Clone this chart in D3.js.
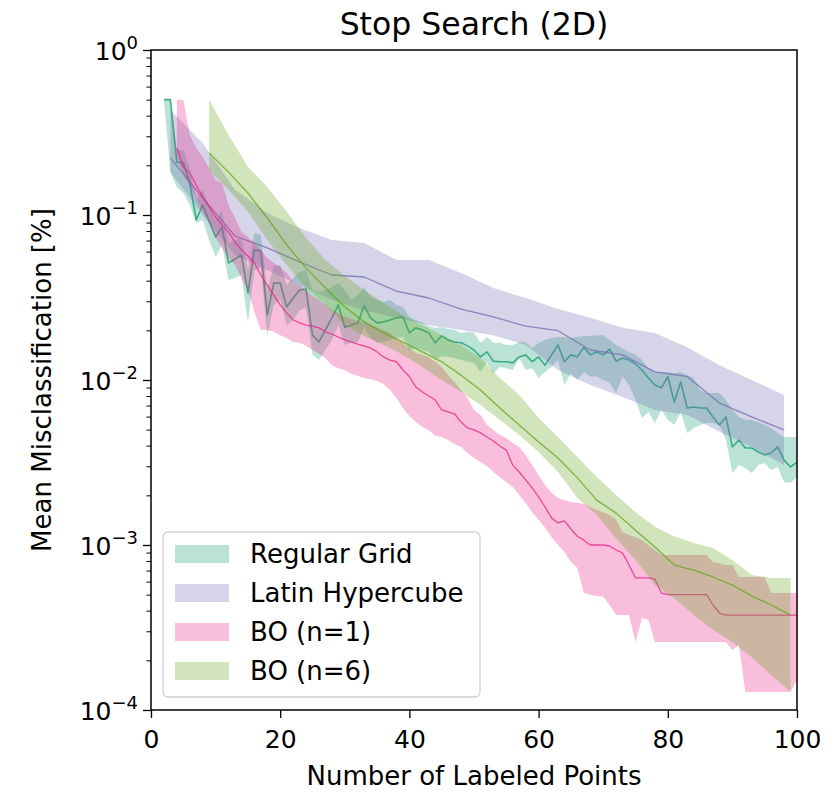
<!DOCTYPE html>
<html>
<head>
<meta charset="utf-8">
<script src="https://cdn.jsdelivr.net/npm/d3@7"></script>
<style>
  body { margin: 0; background: #fff; }
  svg { display: block; font-family: "DejaVu Sans", sans-serif; }
</style>
</head>
<body>
<svg id="chart" width="838" height="792"></svg>
<script>
// ---- Regular Grid: one value per labeled point, n = 2 .. 100 ----
const gridStart = 2;
const gridMean = [
  0.5, 0.5, 0.209, 0.207, 0.156, 0.0933, 0.115, 0.092, 0.0736, 0.0845,
  0.0512, 0.0541, 0.0572, 0.0337, 0.0614, 0.0605, 0.0248, 0.0387, 0.0387, 0.0277,
  0.0314, 0.0351, 0.0356, 0.0187, 0.0170, 0.0201, 0.0238, 0.0285, 0.0209, 0.0215,
  0.0222, 0.0281, 0.0238, 0.0222, 0.0225, 0.0231, 0.0238, 0.0241, 0.0193, 0.0207,
  0.0201, 0.0193, 0.0168, 0.0185, 0.0175, 0.0170, 0.0168, 0.0161, 0.0152, 0.0138,
  0.0148, 0.0130, 0.0129, 0.0129, 0.0127, 0.0138, 0.0142, 0.0129, 0.0138, 0.0123,
  0.0142, 0.0163, 0.0129, 0.0142, 0.0138, 0.0158, 0.0142, 0.0148, 0.0142, 0.0154,
  0.0130, 0.0136, 0.0132, 0.0125, 0.0115, 0.0103, 0.00933, 0.00894, 0.0105, 0.00736,
  0.00972, 0.00677, 0.00686, 0.00677, 0.00677, 0.00597, 0.00534, 0.00597, 0.00393, 0.00433,
  0.00387, 0.00387, 0.00366, 0.00351, 0.00361, 0.00393, 0.00327, 0.00297, 0.00318
];
const gridUpper = [
  0.5, 0.5, 0.248, 0.248, 0.193, 0.123, 0.142, 0.115, 0.0933, 0.107,
  0.0677, 0.0705, 0.0725, 0.0464, 0.0778, 0.0756, 0.0351, 0.0491, 0.0498, 0.0376,
  0.0415, 0.0451, 0.0464, 0.0351, 0.0341, 0.0351, 0.0366, 0.0387, 0.0351, 0.0305,
  0.0327, 0.0366, 0.0318, 0.0305, 0.0297, 0.0305, 0.0285, 0.0277, 0.0241, 0.0231,
  0.0225, 0.0212, 0.0207, 0.0209, 0.0204, 0.0201, 0.0193, 0.0196, 0.0193, 0.0168,
  0.0182, 0.0168, 0.0168, 0.0163, 0.0163, 0.0170, 0.0170, 0.0156, 0.0168, 0.0175,
  0.0180, 0.0182, 0.0182, 0.0180, 0.0182, 0.0185, 0.0185, 0.0187, 0.0187, 0.0175,
  0.0163, 0.0156, 0.0148, 0.0142, 0.0132, 0.0118, 0.0112, 0.0112, 0.0112, 0.0110,
  0.0112, 0.0107, 0.0103, 0.0087, 0.00834, 0.00834, 0.00834, 0.00756, 0.00658, 0.00597,
  0.00572, 0.00572, 0.00556, 0.00534, 0.00512, 0.00478, 0.00451, 0.00451, 0.00451
];
const gridLower = [
  0.5, 0.182, 0.148, 0.136, 0.115, 0.0894, 0.0933, 0.0705, 0.0556, 0.0658,
  0.0404, 0.0415, 0.0433, 0.0222, 0.0464, 0.0478, 0.0187, 0.0285, 0.0305, 0.0215,
  0.0231, 0.0265, 0.0273, 0.0142, 0.0132, 0.0152, 0.0175, 0.0215, 0.0163, 0.0168,
  0.0170, 0.0207, 0.0180, 0.0168, 0.0170, 0.0175, 0.0180, 0.0182, 0.0152, 0.0156,
  0.0152, 0.0148, 0.0132, 0.0140, 0.0138, 0.0136, 0.0132, 0.0129, 0.0127, 0.0112,
  0.0127, 0.0110, 0.0120, 0.0118, 0.0115, 0.0136, 0.0115, 0.0118, 0.0103, 0.0112,
  0.0120, 0.0132, 0.00933, 0.0110, 0.0100, 0.0112, 0.0105, 0.0105, 0.0100, 0.00959,
  0.00834, 0.0105, 0.00933, 0.00756, 0.00588, 0.0064, 0.00549, 0.00658, 0.00572, 0.00534,
  0.0064, 0.00478, 0.00512, 0.00534, 0.00549, 0.00549, 0.00534, 0.00433, 0.00273, 0.00305,
  0.00293, 0.00273, 0.00305, 0.00314, 0.00285, 0.00297, 0.00241, 0.00238, 0.00258
];

// ---- Latin Hypercube: evaluated every 5 points ----
const lhPoints = [3, 8, 13, 18, 23, 28, 33, 38, 43, 48, 53, 58, 63, 68, 73, 78, 83, 88, 93, 98];
const lhMean  = [0.222, 0.127, 0.0746, 0.0632, 0.0519, 0.0433, 0.0421, 0.0346, 0.0314, 0.0269,
                 0.0241, 0.0212, 0.0199, 0.0152, 0.0142, 0.0112, 0.0105, 0.00725, 0.00597, 0.00498];
const lhUpper = [0.433, 0.273, 0.142, 0.103, 0.0834, 0.0705, 0.0677, 0.0534, 0.0534, 0.0445,
                 0.0361, 0.0314, 0.0269, 0.0238, 0.0207, 0.0193, 0.0158, 0.0123, 0.0100, 0.00811];
const lhLower = [0.182, 0.100, 0.0572, 0.0464, 0.0376, 0.0305, 0.0265, 0.0238, 0.0215, 0.0201,
                 0.0187, 0.0163, 0.0115, 0.00933, 0.00788, 0.00658, 0.00614, 0.00485, 0.00393, 0.00305];

// ---- BO (n=1): one value per labeled point, n = 4 .. 100 ----
const bo1Start = 4;
const bo1Mean = [
  0.255, 0.196, 0.180, 0.152, 0.129, 0.112, 0.0972, 0.0870, 0.0788, 0.0686,
  0.0614, 0.0564, 0.0512, 0.0433, 0.0376, 0.0327, 0.0285, 0.0255, 0.0231, 0.0222,
  0.0215, 0.0212, 0.0207, 0.0196, 0.0190, 0.0182, 0.0175, 0.0170, 0.0165, 0.0161,
  0.0156, 0.0148, 0.0138, 0.0132, 0.0129, 0.0115, 0.0105, 0.00907, 0.00845, 0.0080,
  0.00756, 0.00658, 0.0064, 0.00622, 0.00556, 0.00512, 0.00498, 0.00478, 0.00451, 0.00427,
  0.00398, 0.00376, 0.00305, 0.00277, 0.00248, 0.00222, 0.00196, 0.0017, 0.00146, 0.00136,
  0.0014, 0.00125, 0.00113, 0.00107, 0.001, 0.001, 0.001, 0.000986, 0.000933, 0.000894,
  0.000756, 0.000632, 0.000632, 0.000632, 0.000622, 0.000512, 0.0005, 0.0005, 0.0005, 0.0005,
  0.0005, 0.0005, 0.0005, 0.000433, 0.000387, 0.000376, 0.000376, 0.000376, 0.000376, 0.000376,
  0.000376, 0.000376, 0.000376, 0.000376, 0.000376, 0.000376, 0.000376
];
const bo1Upper = [
  0.5, 0.5, 0.305, 0.255, 0.225, 0.193, 0.163, 0.156, 0.115, 0.0959,
  0.0788, 0.0736, 0.0677, 0.0614, 0.0549, 0.0512, 0.0485, 0.0445, 0.0393, 0.0376,
  0.0351, 0.0323, 0.0305, 0.0285, 0.0265, 0.0255, 0.0241, 0.0234, 0.0228, 0.0222,
  0.0215, 0.0209, 0.0201, 0.0193, 0.0180, 0.0168, 0.0156, 0.0146, 0.0142, 0.0138,
  0.0129, 0.0120, 0.0107, 0.00972, 0.0087, 0.00778, 0.00658, 0.00614, 0.00534, 0.00498,
  0.00464, 0.00445, 0.00415, 0.00393, 0.00351, 0.00305, 0.00265, 0.00231, 0.00207, 0.00193,
  0.00187, 0.00182, 0.0018, 0.00178, 0.0017, 0.00163, 0.00158, 0.00152, 0.00142, 0.0012,
  0.00115, 0.00112, 0.00107, 0.001, 0.000933, 0.00087, 0.00087, 0.00087, 0.00087, 0.00087,
  0.00087, 0.00087, 0.00087, 0.000788, 0.000776, 0.000756, 0.000756, 0.00064, 0.00064, 0.00064,
  0.00064, 0.00064, 0.000512, 0.000512, 0.000512, 0.000512, 0.000512
];
const bo1Lower = [
  0.23, 0.175, 0.152, 0.123, 0.105, 0.0894, 0.0725, 0.0632, 0.0549, 0.0498,
  0.0415, 0.0351, 0.0258, 0.0201, 0.0201, 0.0196, 0.0187, 0.0180, 0.0170, 0.0168,
  0.0161, 0.0152, 0.0144, 0.0136, 0.0123, 0.0118, 0.0115, 0.0109, 0.0106, 0.0103,
  0.0101, 0.00986, 0.00946, 0.0087, 0.00778, 0.00677, 0.00605, 0.00556, 0.00519, 0.00498,
  0.00458, 0.00451, 0.00433, 0.0041, 0.00393, 0.00361, 0.00337, 0.00318, 0.00301, 0.00277,
  0.00258, 0.00241, 0.00225, 0.00201, 0.0018, 0.00158, 0.00142, 0.00127, 0.00112, 0.001,
  0.000907, 0.000788, 0.000725, 0.000512, 0.0005, 0.00049, 0.000485, 0.000433, 0.000376, 0.000376,
  0.000376, 0.000258, 0.000361, 0.000351, 0.000258, 0.000258, 0.000258, 0.000258, 0.000258, 0.000258,
  0.000258, 0.000258, 0.000258, 0.000258, 0.000258, 0.000258, 0.000231, 0.000248, 0.000129, 0.000129,
  0.000129, 0.000129, 0.000129, 0.000129, 0.000129, 0.000129, 0.000152
];

// ---- BO (n=6): evaluated every 3 points ----
const bo6Points = [9, 12, 15, 18, 21, 24, 27, 30, 33, 36, 39, 42, 45, 48, 51, 54,
                   57, 60, 63, 66, 69, 72, 75, 78, 81, 84, 87, 90, 93, 96, 99];
const bo6Mean  = [0.238, 0.182, 0.136, 0.0959, 0.0658, 0.0478, 0.0361, 0.0277, 0.0225, 0.0193,
                  0.0170, 0.0148, 0.0129, 0.0107, 0.0087, 0.00677, 0.00534, 0.00421, 0.00337, 0.00255,
                  0.00187, 0.00156, 0.00123, 0.000972, 0.000756, 0.000705, 0.00064, 0.000572, 0.00049, 0.000433,
                  0.000376];
const bo6Upper = [0.5, 0.305, 0.196, 0.148, 0.105, 0.0725, 0.0534, 0.0427, 0.0351, 0.0293,
                  0.0248, 0.0215, 0.0187, 0.0163, 0.0136, 0.0103, 0.00811, 0.00588, 0.00451, 0.00341,
                  0.00258, 0.00201, 0.00158, 0.00129, 0.00113, 0.00103, 0.000959, 0.000811, 0.000658, 0.000632,
                  0.000632];
const bo6Lower = [0.187, 0.142, 0.105, 0.0705, 0.0498, 0.0361, 0.0285, 0.0215, 0.0185, 0.0163,
                  0.0142, 0.0120, 0.0100, 0.00845, 0.00705, 0.00572, 0.00464, 0.00366, 0.00277, 0.00193,
                  0.00152, 0.0011, 0.000811, 0.000572, 0.000478, 0.000376, 0.000305, 0.000258, 0.000209, 0.000163,
                  0.000129];

// ---- Axis ticks and labels ----
const xTicks = [0, 20, 40, 60, 80, 100];
const yMajorTicks = [1e-4, 1e-3, 1e-2, 1e-1, 1];
const legendLabels = ["Regular Grid", "Latin Hypercube", "BO (n=1)", "BO (n=6)"];
const colors = ["#1b9e77", "#7570b3", "#e7298a", "#66a61e"];

// ---- Layout ----
const plot = { left: 151, right: 797, top: 50, bottom: 710 };
const svg = d3.select("#chart");

const x = d3.scaleLinear().domain([0, 100]).range([plot.left, plot.right]);
const y = d3.scaleLog().domain([1e-4, 1]).range([plot.bottom, plot.top]);

function rows(points, mean, lo, hi) {
  return points.map((n, i) => ({ n, mean: mean[i], lo: lo[i], hi: hi[i] }));
}
const consecutive = (start, len) => Array.from({ length: len }, (_, i) => start + i);

const series = [
  rows(consecutive(gridStart, gridMean.length), gridMean, gridLower, gridUpper),
  rows(lhPoints, lhMean, lhLower, lhUpper),
  rows(consecutive(bo1Start, bo1Mean.length), bo1Mean, bo1Lower, bo1Upper),
  rows(bo6Points, bo6Mean, bo6Lower, bo6Upper)
];
const lineWidths = [1.6, 1.3, 1.3, 1.3];

svg.append("defs").append("clipPath").attr("id", "plotClip")
  .append("rect")
  .attr("x", plot.left).attr("y", plot.top)
  .attr("width", plot.right - plot.left).attr("height", plot.bottom - plot.top);

const area = d3.area().x(d => x(d.n)).y0(d => y(d.lo)).y1(d => y(d.hi));
const line = d3.line().x(d => x(d.n)).y(d => y(d.mean));

// each method: shaded min/max band, then its mean curve
const marks = svg.append("g").attr("clip-path", "url(#plotClip)");
series.forEach((data, i) => {
  marks.append("path").datum(data)
    .attr("d", area)
    .attr("fill", colors[i]).attr("fill-opacity", 0.3).attr("stroke", "none");
  marks.append("path").datum(data)
    .attr("d", line)
    .attr("fill", "none").attr("stroke", colors[i])
    .attr("stroke-width", lineWidths[i]).attr("stroke-opacity", 0.8)
    .attr("stroke-linejoin", "round");
});

// ---- Axes ----
const xAxis = svg.append("g")
  .attr("transform", `translate(0,${plot.bottom})`)
  .call(d3.axisBottom(x).tickValues(xTicks).tickSize(8).tickPadding(12).tickFormat(d3.format("d")));
xAxis.select(".domain").remove();
xAxis.selectAll(".tick line").attr("stroke", "#000").attr("stroke-width", 1.3);
xAxis.selectAll(".tick text")
  .attr("font-family", "DejaVu Sans").attr("font-size", 25).attr("fill", "#000");

const yMinorTicks = [];
yMajorTicks.slice(0, -1).forEach(b => { for (let k = 2; k <= 9; k++) yMinorTicks.push(b * k); });

const yMinor = svg.append("g")
  .attr("transform", `translate(${plot.left},0)`)
  .call(d3.axisLeft(y).tickValues(yMinorTicks).tickSize(4.5).tickFormat(""));
yMinor.select(".domain").remove();
yMinor.selectAll(".tick line").attr("stroke", "#000").attr("stroke-width", 1);

const yMajor = svg.append("g")
  .attr("transform", `translate(${plot.left},0)`)
  .call(d3.axisLeft(y).tickValues(yMajorTicks).tickSize(8).tickFormat(""));
yMajor.select(".domain").remove();
yMajor.selectAll(".tick line").attr("stroke", "#000").attr("stroke-width", 1.3);

// y tick labels as 10 with a superscript exponent
const yLabels = svg.append("g");
yMajorTicks.forEach(v => {
  const exp = Math.round(Math.log10(v));
  const t = yLabels.append("text")
    .attr("x", plot.left - 13).attr("y", y(v) + 10)
    .attr("text-anchor", "end")
    .attr("font-family", "DejaVu Sans").attr("font-size", 25).attr("fill", "#000");
  t.append("tspan").text("10");
  t.append("tspan").attr("dy", -11).attr("font-size", 18)
    .text(exp < 0 ? "\u2212" + Math.abs(exp) : String(exp));
});

// frame
svg.append("rect")
  .attr("x", plot.left).attr("y", plot.top)
  .attr("width", plot.right - plot.left).attr("height", plot.bottom - plot.top)
  .attr("fill", "none").attr("stroke", "#000").attr("stroke-width", 1.5);

// ---- Titles ----
svg.append("text")
  .attr("x", (plot.left + plot.right) / 2).attr("y", 35)
  .attr("text-anchor", "middle")
  .attr("font-size", 31.5).attr("fill", "#000")
  .text("Stop Search (2D)");

svg.append("text")
  .attr("x", (plot.left + plot.right) / 2).attr("y", 785)
  .attr("text-anchor", "middle")
  .attr("font-size", 26).attr("fill", "#000")
  .text("Number of Labeled Points");

svg.append("text")
  .attr("transform", `translate(51,${(plot.top + plot.bottom) / 2}) rotate(-90)`)
  .attr("text-anchor", "middle")
  .attr("font-size", 26).attr("fill", "#000")
  .text("Mean Misclassification [%]");

// ---- Legend ----
const legend = svg.append("g").attr("transform", "translate(163,532)");
legend.append("rect")
  .attr("width", 317).attr("height", 165).attr("rx", 5)
  .attr("fill", "#fff").attr("fill-opacity", 0.8)
  .attr("stroke", "#d0d0d0").attr("stroke-width", 1.3);
legendLabels.forEach((label, i) => {
  const cy = 22 + i * 39;
  legend.append("rect")
    .attr("x", 12).attr("y", cy - 9).attr("width", 54).attr("height", 18)
    .attr("fill", colors[i]).attr("fill-opacity", 0.3);
  legend.append("text")
    .attr("x", 87).attr("y", cy + 9)
    .attr("font-size", 26).attr("fill", "#000")
    .text(label);
});
</script>
</body>
</html>
